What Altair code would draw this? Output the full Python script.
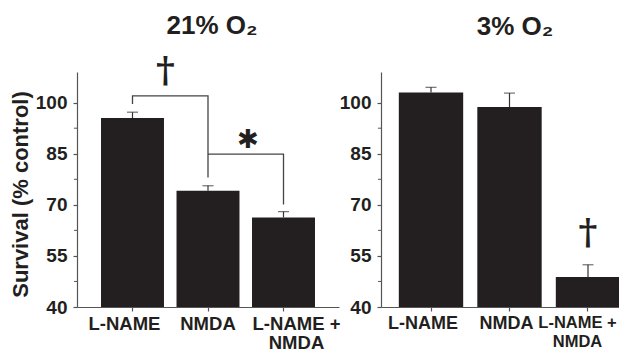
import altair as alt
import pandas as pd

categories = ["L-NAME", "NMDA", "L-NAME + NMDA"]
survival_21 = [95.5, 74.1, 66.3]
sem_21 = [1.7, 1.5, 1.7]
survival_3 = [103.0, 98.7, 48.8]
sem_3 = [1.5, 4.1, 3.6]

y_ticks = [40, 55, 70, 85, 100]
y_minor = [47.5, 62.5, 77.5, 92.5]
y_domain = [40, 109]
y_base = 40

# significance brackets (21% O2 panel)
bracket_id = [1, 1, 1, 1, 2, 2, 2]
bracket_order = [0, 1, 2, 3, 0, 1, 2]
bracket_x = ["L-NAME", "L-NAME", "NMDA", "NMDA", "NMDA", "L-NAME + NMDA", "L-NAME + NMDA"]
bracket_y = [99.6, 102.0, 102.0, 78.0, 84.9, 84.9, 70.1]

# significance symbols
dagger_21 = {"x": "L-NAME", "y": 109.3, "t": "\u2020"}
star_21 = {"x": "NMDA", "y": 88.9, "t": "\u2731"}
dagger_3 = {"x": "L-NAME + NMDA", "y": 61.8, "t": "\u2020"}

INK = "#231f20"
AXC = "#555555"
SANS = "Liberation Sans"
FIRST = "datum.value == 'L-NAME'"
MID = "datum.value == 'NMDA'"
LAST = "datum.value == 'L-NAME + NMDA'"


def panel(values, sems, title, title_dx, title_offset, ytitle, width, xpad, offs,
          label_size, last_size, annotations):
    df = pd.DataFrame({"cat": categories, "val": values, "sem": sems})
    df["hi"] = df["val"] + df["sem"]
    xs = alt.Scale(domain=categories, paddingInner=xpad[0], paddingOuter=xpad[1])
    ys = alt.Scale(domain=y_domain, nice=False, zero=False)
    xaxis = alt.Axis(
        title=None, labelAngle=0, labelFont=SANS, labelFontWeight="bold",
        labelFontSize={"condition": {"test": LAST, "value": last_size}, "value": label_size},
        labelColor=INK, labelLineHeight=19, tickSize=4, tickColor=AXC, domainColor=AXC,
        domainWidth=1.2, tickWidth=1.2, labelPadding=3.5,
        labelExpr="datum.label == 'L-NAME + NMDA' ? ['L-NAME +', 'NMDA'] : datum.label",
        labelOffset={"condition": [{"test": FIRST, "value": offs[0]},
                                   {"test": MID, "value": offs[1]},
                                   {"test": LAST, "value": offs[2]}],
                     "value": 0},
    )
    ykw = dict(
        values=y_ticks, grid=False, labelFont=SANS, labelFontWeight="bold", labelFontSize=19,
        labelColor=INK, tickSize=4, tickColor=AXC, domainColor=AXC, domainWidth=1.2,
        tickWidth=1.2, labelPadding=6,
    )
    if ytitle:
        yaxis = alt.Axis(title=ytitle, titleFont=SANS, titleFontWeight="bold",
                         titleFontSize=22, titleColor=INK, titlePadding=3, titleY=122, **ykw)
    else:
        yaxis = alt.Axis(title=None, **ykw)
    base = alt.Chart(df)
    bars = base.mark_bar(color=INK).encode(
        x=alt.X("cat:N", scale=xs, axis=xaxis, sort=categories),
        y=alt.Y("val:Q", scale=ys, axis=yaxis),
        y2=alt.datum(y_base),
    )
    err = base.mark_rule(color="#333333", strokeWidth=1.2).encode(
        x=alt.X("cat:N", sort=categories), y="val:Q", y2="hi:Q"
    )
    caps = base.mark_tick(color="#333333", size=11, thickness=1.2).encode(
        x=alt.X("cat:N", sort=categories), y="hi:Q"
    )
    minor = alt.Chart(pd.DataFrame({"m": y_minor})).mark_rule(color=AXC, strokeWidth=1).encode(
        y="m:Q", x=alt.value(-3), x2=alt.value(0)
    )
    layers = [bars, err, caps, minor] + annotations
    return alt.layer(*layers).properties(
        width=width, height=235,
        title=alt.TitleParams(text=title, font=SANS, fontSize=26, fontWeight="bold",
                              color=INK, anchor="middle", frame="group", offset=title_offset,
                              dx=title_dx, baseline="alphabetic"),
    )


def symbol(d, font, size, dx):
    return alt.Chart(pd.DataFrame([d])).mark_text(
        font=font, fontSize=size, fontWeight="bold", color=INK, baseline="middle", dx=dx
    ).encode(x=alt.X("x:N", sort=categories), y="y:Q", text="t:N")


bdf = pd.DataFrame({"id": bracket_id, "o": bracket_order, "x": bracket_x, "y": bracket_y})
brackets = alt.Chart(bdf).mark_line(color="#444444", strokeWidth=1.3).encode(
    x=alt.X("x:N", sort=categories), y="y:Q", detail="id:N", order="o:Q"
)

left = panel(
    survival_21, sem_21, "21% O\u2082", 4, -7.5, "Survival (% control)", 262,
    (0.166, 0.318), (-8, 0, 13), 18.5, 18.5,
    [brackets,
     symbol(dagger_21, "DejaVu Serif", 36, 33),
     symbol(star_21, "DejaVu Sans", 26, 40)],
)
right = panel(
    survival_3, sem_3, "3% O\u2082", 5.5, 11, None, 257,
    (0.18, 0.227), (-8, -3, -10.5), 18, 16.5,
    [symbol(dagger_3, "DejaVu Serif", 36, 0)],
)

chart = alt.hconcat(left, right, spacing=42, bounds="flush").properties(
    autosize=alt.AutoSizeParams(type="none"),
    padding={"left": 69, "top": 64, "right": 542, "bottom": 276},
).configure_view(stroke=None)

chart.save("out.html", embed_options={"renderer": "svg", "actions": False})
